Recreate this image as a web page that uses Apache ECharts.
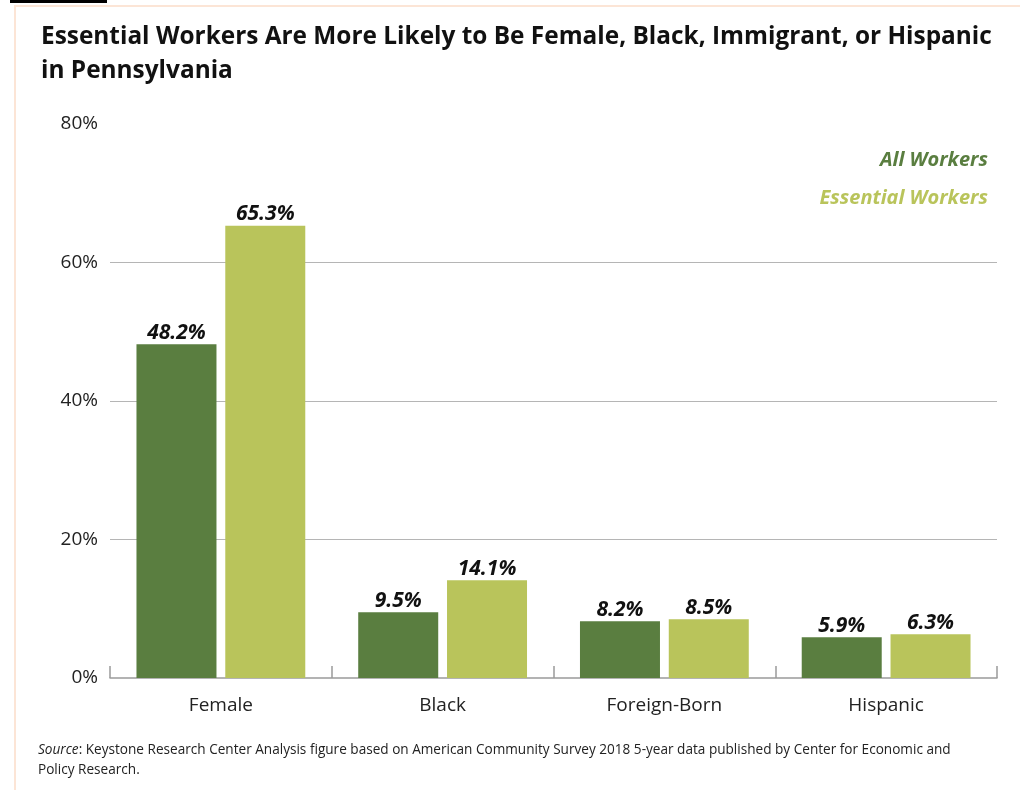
<!DOCTYPE html>
<html>
<head>
<meta charset="utf-8">
<script src="https://cdn.jsdelivr.net/npm/echarts@6/dist/echarts.min.js"></script>
<style>
  html, body { margin: 0; padding: 0; background: #ffffff; }
  #chart { width: 1020px; height: 790px; }
</style>
</head>
<body>
<div id="chart"></div>
<script>
// Share of workers in each group, Pennsylvania (percent)
const categories = ['Female', 'Black', 'Foreign-Born', 'Hispanic'];
const allWorkers = [48.2, 9.5, 8.2, 5.9];
const essentialWorkers = [65.3, 14.1, 8.5, 6.3];
const seriesNames = ['All Workers', 'Essential Workers'];
const yTicks = [0, 20, 40, 60, 80];

const DARK = '#5a7e40';
const LIGHT = '#b9c45b';
const FONT = '"Open Sans", "Noto Sans", sans-serif';

const chart = echarts.init(document.getElementById('chart'), null, { renderer: 'canvas' });

const valueLabel = {
  show: true,
  position: 'top',
  distance: 1,
  formatter: p => p.value.toFixed(1) + '%',
  fontFamily: FONT,
  fontSize: 21,
  fontWeight: 'bold',
  fontStyle: 'italic',
  color: '#111'
};

chart.setOption({
  backgroundColor: '#ffffff',
  animation: false,
  title: {
    text: 'Essential Workers Are More Likely to Be Female, Black, Immigrant, or Hispanic\nin Pennsylvania',
    left: 36,
    top: 15,
    textStyle: {
      fontFamily: FONT,
      fontSize: 24.4,
      fontWeight: 'bold',
      color: '#111',
      lineHeight: 34
    }
  },
  legend: {
    orient: 'vertical',
    right: 22,
    top: 145,
    align: 'right',
    itemWidth: 0,
    itemHeight: 0,
    itemGap: 18,
    icon: 'rect',
    selectedMode: false,
    data: [
      { name: seriesNames[0], textStyle: { color: DARK } },
      { name: seriesNames[1], textStyle: { color: LIGHT } }
    ],
    textStyle: {
      fontFamily: FONT,
      fontSize: 20,
      fontWeight: 'bold',
      fontStyle: 'italic'
    }
  },
  grid: { left: 110, right: 23, top: 124, bottom: 112, containLabel: false },
  xAxis: {
    type: 'category',
    data: categories,
    axisLine: { lineStyle: { color: '#9a9a9a', width: 1.5 } },
    axisTick: { show: true, length: -12, lineStyle: { color: '#9a9a9a', width: 1.5 } },
    axisLabel: { fontFamily: FONT, fontSize: 19, color: '#222', margin: 18 }
  },
  yAxis: {
    type: 'value',
    min: yTicks[0],
    max: yTicks[yTicks.length - 1],
    interval: 20,
    axisLine: { show: false },
    axisTick: { show: false },
    axisLabel: { fontFamily: FONT, fontSize: 19, color: '#222', margin: 12, formatter: v => v + '%' },
    splitLine: {
      show: true,
      lineStyle: { color: '#b5b5b5', width: 1.2 },
      showMinLine: false,
      showMaxLine: false
    }
  },
  series: [
    {
      name: seriesNames[0],
      type: 'bar',
      data: allWorkers,
      barWidth: 80,
      barGap: '11%',
      itemStyle: { color: DARK },
      label: valueLabel
    },
    {
      name: seriesNames[1],
      type: 'bar',
      data: essentialWorkers,
      barWidth: 80,
      itemStyle: { color: LIGHT },
      label: valueLabel
    }
  ],
  graphic: [
    // page frame
    { type: 'rect', left: 10, top: 0, shape: { width: 97, height: 3 }, style: { fill: '#000' } },
    { type: 'rect', left: 14, top: 5, shape: { width: 1006, height: 2 }, style: { fill: '#fce5d6' } },
    { type: 'rect', left: 14, top: 5, shape: { width: 2, height: 785 }, style: { fill: '#fce5d6' } },
    {
      type: 'text',
      left: 38,
      top: 740,
      style: {
        text: '{i|Source}: Keystone Research Center Analysis figure based on American Community Survey 2018 5-year data published by Center for Economic and\nPolicy Research.',
        font: '13.6px ' + FONT,
        fill: '#222',
        lineHeight: 20,
        rich: {
          i: { fontStyle: 'italic', fontFamily: FONT, fontSize: 13.6, fill: '#222' }
        }
      }
    }
  ]
});
</script>
</body>
</html>
